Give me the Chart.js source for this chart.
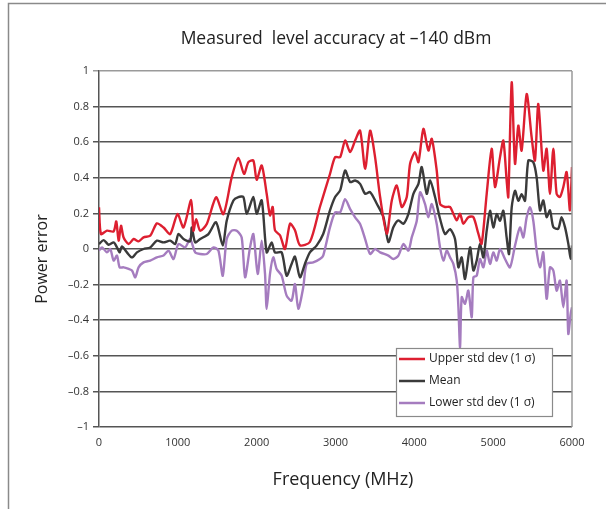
<!DOCTYPE html>
<html>
<head>
<meta charset="utf-8">
<script src="https://cdn.jsdelivr.net/npm/chart.js@4/dist/chart.umd.min.js"></script>
<style>
  html, body { margin: 0; padding: 0; background: #fff; }
  #wrap { width: 606px; height: 509px; position: relative; }
</style>
</head>
<body>
<div id="wrap"><canvas id="c" width="606" height="509"></canvas></div>
<script>
const chartTitle = 'Measured  level accuracy at \u2013140 dBm';
const xTitle = 'Frequency (MHz)';
const yTitle = 'Power error';
const seriesNames = ['Upper std dev (1 \u03c3)', 'Mean', 'Lower std dev (1 \u03c3)'];

const upperFreq = [0,25,101,186,219,249,279,312,376,439,502,565,650,734,819,903,996,1072,1169,1198,1232,1283,1367,1485,1578,1684,1768,1840,1895,1958,2000,2064,2127,2169,2203,2232,2296,2359,2423,2486,2549,2675,2802,2929,2995,3059,3122,3186,3249,3312,3376,3439,3502,3566,3650,3714,3777,3840,3904,3946,4009,4052,4115,4178,4221,4284,4326,4390,4453,4495,4538,4580,4622,4685,4749,4812,4854,4918,4981,5023,5087,5129,5171,5192,5235,5277,5319,5361,5425,5488,5530,5573,5636,5678,5721,5763,5805,5847,5890,5932,5974,6000];
const upperVals = [0.234,0.084,0.103,0.099,0.155,0.047,0.131,0.065,0.028,0.056,0.043,0.065,0.075,0.144,0.121,0.084,0.196,0.121,0.275,0.103,0.168,0.103,0.14,0.29,0.196,0.404,0.512,0.422,0.488,0.497,0.389,0.469,0.31,0.189,0.236,0.105,0.077,0.0,0.142,0.105,0.021,0.039,0.236,0.42,0.516,0.516,0.609,0.544,0.609,0.665,0.45,0.665,0.516,0.292,0.086,0.273,0.357,0.236,0.292,0.479,0.544,0.488,0.675,0.553,0.619,0.441,0.254,0.236,0.236,0.198,0.161,0.198,0.142,0.179,0.179,0.086,0.03,0.31,0.563,0.348,0.516,0.609,0.385,0.292,0.936,0.479,0.693,0.553,0.871,0.628,0.497,0.815,0.441,0.563,0.31,0.563,0.31,0.292,0.348,0.432,0.217,0.46];

const meanFreq = [0,59,122,186,228,262,291,354,418,481,565,650,734,819,903,966,1008,1072,1156,1177,1220,1283,1388,1485,1570,1620,1705,1768,1831,1874,1958,2000,2064,2127,2190,2232,2317,2380,2443,2486,2549,2612,2675,2760,2844,2929,2995,3059,3122,3186,3249,3312,3376,3439,3524,3608,3671,3735,3798,3861,3925,3988,4052,4094,4157,4200,4263,4326,4390,4453,4516,4559,4601,4643,4707,4749,4791,4833,4876,4918,4960,5002,5045,5087,5129,5171,5201,5235,5277,5319,5361,5404,5446,5509,5551,5594,5636,5678,5721,5763,5826,5868,5911,5953,5983,6000];
const meanVals = [0.028,0.05,0.024,0.037,0.009,-0.019,0.015,-0.019,-0.047,-0.019,0.0,0.009,0.047,0.037,0.047,0.028,0.084,0.056,0.043,0.121,0.037,0.056,0.084,0.15,0.019,0.159,0.273,0.292,0.292,0.198,0.292,0.198,0.273,-0.019,0.037,-0.019,-0.019,-0.15,-0.084,-0.043,-0.159,-0.084,-0.019,0.019,0.084,0.215,0.292,0.329,0.441,0.376,0.385,0.366,0.31,0.32,0.254,0.179,0.039,0.123,0.161,0.142,0.198,0.31,0.366,0.46,0.31,0.385,0.292,0.17,0.084,0.112,0.056,-0.103,-0.047,-0.168,0.009,-0.121,-0.065,0.028,-0.047,0.103,0.215,0.121,0.196,0.159,0.215,0.065,-0.028,0.234,0.327,0.271,0.308,0.271,0.497,0.488,0.404,0.217,0.273,0.179,0.217,0.123,0.114,0.179,0.123,0.03,-0.055,0.02];

const lowerFreq = [0,38,101,143,186,228,262,312,376,418,460,502,565,650,734,819,882,945,1008,1093,1156,1220,1283,1367,1452,1515,1570,1620,1684,1747,1810,1853,1916,1958,2013,2064,2106,2127,2169,2211,2253,2317,2380,2443,2486,2528,2591,2633,2718,2802,2844,2929,2995,3059,3122,3186,3249,3312,3376,3439,3502,3566,3671,3735,3798,3861,3925,3967,4031,4073,4136,4178,4221,4284,4326,4369,4411,4453,4495,4538,4559,4580,4601,4643,4685,4728,4749,4791,4833,4876,4918,4960,5002,5045,5087,5150,5214,5277,5340,5383,5425,5467,5509,5551,5594,5636,5678,5721,5763,5805,5847,5890,5932,5953,5983,6000];
const lowerVals = [-0.009,0.009,-0.019,0.0,-0.065,-0.037,-0.103,-0.103,-0.112,-0.121,-0.159,-0.103,-0.075,-0.065,-0.047,-0.037,-0.009,-0.056,0.028,0.009,0.056,-0.019,-0.028,-0.028,0.009,-0.009,-0.15,0.056,0.103,0.103,0.065,-0.159,0.009,0.084,-0.14,0.047,-0.14,-0.336,-0.14,-0.047,-0.112,-0.15,-0.262,-0.29,-0.196,-0.336,-0.215,-0.084,-0.075,-0.056,-0.037,0.12,0.206,0.206,0.28,0.224,0.178,0.14,0.056,-0.028,0.0,-0.019,-0.037,-0.056,-0.037,0.028,-0.009,0.065,0.159,0.318,0.252,0.178,0.252,0.14,0.009,-0.065,-0.009,-0.047,-0.084,-0.178,-0.327,-0.551,-0.271,-0.308,-0.234,-0.383,-0.159,-0.15,-0.056,-0.103,-0.009,-0.084,-0.019,-0.065,0.0,-0.056,-0.103,0.019,0.121,0.065,0.178,0.234,0.159,-0.009,-0.103,-0.019,-0.28,-0.103,-0.121,-0.234,-0.178,-0.327,-0.178,-0.477,-0.364,-0.327];

const seriesColors = ['#dd1f30', '#3a3a3a', '#a57cbf'];

function pts(xs, ys) { return xs.map((x, i) => ({ x: x, y: ys[i] })); }

const FONT = '"Open Sans", "Liberation Sans", sans-serif';

const decor = {
  id: 'decor',
  beforeDraw(chart) {
    const ctx = chart.ctx;
    ctx.save();
    ctx.fillStyle = '#fff';
    ctx.fillRect(0, 0, chart.width, chart.height);
    // outer frame (left + top)
    ctx.strokeStyle = '#8a8a8a';
    ctx.lineWidth = 1.5;
    ctx.beginPath();
    ctx.moveTo(8.5, 509);
    ctx.lineTo(8.5, 3.5);
    ctx.lineTo(606, 3.5);
    ctx.stroke();
    ctx.restore();
  },
  afterDatasetsDraw(chart) {
    const ctx = chart.ctx;
    const a = chart.chartArea;
    ctx.save();
    // right border of plot
    ctx.strokeStyle = '#9a9a9a';
    ctx.lineWidth = 1.5;
    ctx.beginPath();
    ctx.moveTo(a.right, a.top);
    ctx.lineTo(a.right, a.bottom);
    ctx.stroke();

    // title
    ctx.fillStyle = '#222';
    ctx.textAlign = 'center';
    ctx.textBaseline = 'middle';
    ctx.font = '17.5px ' + FONT;
    ctx.fillText(chartTitle, 336, 39.5);
    // x title
    ctx.font = '18px ' + FONT;
    ctx.fillText(xTitle, 343, 480);
    // y title
    ctx.save();
    ctx.translate(42, 259);
    ctx.rotate(-Math.PI / 2);
    ctx.font = '16px ' + FONT;
    ctx.fillText(yTitle, 0, 0);
    ctx.restore();

    // legend
    const lx = 396, ly = 348, lw = 156, lh = 68;
    ctx.fillStyle = '#fff';
    ctx.fillRect(lx, ly, lw, lh);
    ctx.strokeStyle = '#8a8a8a';
    ctx.lineWidth = 1.2;
    ctx.strokeRect(lx + 0.5, ly + 0.5, lw, lh);
    const rows = [359, 381, 403];
    ctx.font = '12px ' + FONT;
    ctx.textAlign = 'left';
    chart.data.datasets.forEach((ds, i) => {
      const y = rows[i];
      ctx.strokeStyle = ds.borderColor;
      ctx.lineWidth = 2.5;
      ctx.beginPath();
      ctx.moveTo(399, y);
      ctx.lineTo(425, y);
      ctx.stroke();
      ctx.fillStyle = '#222';
      ctx.fillText(ds.label, 429, y);
    });
    ctx.restore();
  }
};

new Chart(document.getElementById('c'), {
  type: 'line',
  data: {
    datasets: [
      { label: seriesNames[0], data: pts(upperFreq, upperVals), borderColor: seriesColors[0], order: 1 },
      { label: seriesNames[1], data: pts(meanFreq, meanVals), borderColor: seriesColors[1], order: 2 },
      { label: seriesNames[2], data: pts(lowerFreq, lowerVals), borderColor: seriesColors[2], order: 3 }
    ]
  },
  options: {
    responsive: false,
    animation: false,
    devicePixelRatio: 1,
    layout: { padding: { left: 0, right: 34, top: 71, bottom: 0 } },
    elements: {
      point: { radius: 0 },
      line: { borderWidth: 2.4, tension: 0.25, fill: false }
    },
    plugins: {
      legend: { display: false },
      title: { display: false },
      tooltip: { enabled: false }
    },
    scales: {
      x: {
        type: 'linear',
        min: 0, max: 6000,
        afterFit(s) { s.height = 82; },
        grid: { display: false, drawTicks: false },
        border: { display: false },
        ticks: {
          stepSize: 1000,
          padding: 9,
          color: '#333',
          font: { family: FONT, size: 11 },
          maxRotation: 0,
          callback(v) { return String(Math.round(v)); }
        }
      },
      y: {
        min: -1, max: 1,
        afterFit(s) { s.width = 99; },
        grid: {
          color: (c) => (c.tick && c.tick.value === 1) ? '#9a9a9a' : '#555',
          lineWidth: 1.5,
          drawTicks: true,
          tickLength: 6
        },
        border: { display: true, color: '#555', width: 1.5 },
        ticks: {
          stepSize: 0.2,
          padding: 4,
          color: '#333',
          font: { family: FONT, size: 11 },
          callback(v) {
            const r = Math.round(v * 10) / 10;
            if (r === 0) return '0';
            return (r < 0 ? '\u2013' : '') + String(Math.abs(r));
          }
        }
      }
    }
  },
  plugins: [decor]
});
</script>
</body>
</html>
